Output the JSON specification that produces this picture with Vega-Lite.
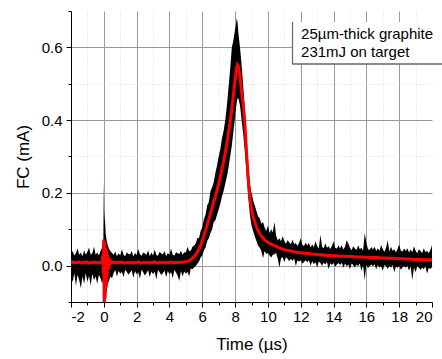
{
  "$schema": "https://vega.github.io/schema/vega-lite/v6.json",
  "width": 361,
  "height": 291,
  "autosize": "none",
  "padding": {"left": 71, "top": 11, "right": 10, "bottom": 57},
  "config": {
    "view": {"stroke": null},
    "font": "Liberation Sans",
    "axis": {
      "domainColor": "#000",
      "domainWidth": 1,
      "tickColor": "#000",
      "labelColor": "#000",
      "titleColor": "#000",
      "labelFont": "Liberation Sans",
      "titleFont": "Liberation Sans",
      "labelFontSize": 15,
      "titleFontSize": 17,
      "titleFontWeight": "normal"
    }
  },
  "data": {
    "values": [
      {"t":-2,"r":0.008,"lo":-0.03,"hi":0.03},
      {"t":-1.9,"r":0.01,"lo":-0.045,"hi":0.04},
      {"t":-1.8,"r":0.007,"lo":-0.02,"hi":0.028},
      {"t":-1.7,"r":0.009,"lo":-0.055,"hi":0.035},
      {"t":-1.6,"r":0.008,"lo":-0.025,"hi":0.048},
      {"t":-1.5,"r":0.01,"lo":-0.04,"hi":0.03},
      {"t":-1.4,"r":0.007,"lo":-0.062,"hi":0.036},
      {"t":-1.3,"r":0.009,"lo":-0.03,"hi":0.026},
      {"t":-1.2,"r":0.008,"lo":-0.05,"hi":0.042},
      {"t":-1.1,"r":0.01,"lo":-0.02,"hi":0.03},
      {"t":-1,"r":0.008,"lo":-0.045,"hi":0.038},
      {"t":-0.9,"r":0.007,"lo":-0.028,"hi":0.05},
      {"t":-0.8,"r":0.009,"lo":-0.055,"hi":0.03},
      {"t":-0.7,"r":0.008,"lo":-0.022,"hi":0.034},
      {"t":-0.6,"r":0.01,"lo":-0.04,"hi":0.052},
      {"t":-0.5,"r":0.008,"lo":-0.03,"hi":0.03},
      {"t":-0.4,"r":0.009,"lo":-0.05,"hi":0.036},
      {"t":-0.3,"r":0.007,"lo":-0.025,"hi":0.028},
      {"t":-0.2,"r":0.009,"lo":-0.035,"hi":0.04},
      {"t":-0.1,"r":0.01,"lo":-0.05,"hi":0.05},
      {"t":-0.06,"r":0.03,"lo":-0.04,"hi":0.07},
      {"t":-0.03,"r":-0.02,"lo":-0.07,"hi":0.06},
      {"t":0,"r":0.072,"lo":-0.11,"hi":0.234},
      {"t":0.02,"r":-0.1,"lo":-0.12,"hi":0.15},
      {"t":0.05,"r":0.065,"lo":-0.12,"hi":0.13},
      {"t":0.08,"r":-0.09,"lo":-0.11,"hi":0.12},
      {"t":0.11,"r":0.05,"lo":-0.09,"hi":0.09},
      {"t":0.14,"r":-0.06,"lo":-0.08,"hi":0.08},
      {"t":0.17,"r":0.04,"lo":-0.07,"hi":0.07},
      {"t":0.2,"r":-0.03,"lo":-0.06,"hi":0.065},
      {"t":0.24,"r":0.03,"lo":-0.05,"hi":0.055},
      {"t":0.28,"r":-0.01,"lo":-0.045,"hi":0.05},
      {"t":0.33,"r":0.02,"lo":-0.04,"hi":0.045},
      {"t":0.4,"r":0.005,"lo":-0.03,"hi":0.04},
      {"t":0.5,"r":0.011,"lo":-0.035,"hi":0.035},
      {"t":0.6,"r":0.008,"lo":-0.02,"hi":0.03},
      {"t":0.7,"r":0.009,"lo":-0.012,"hi":0.039},
      {"t":0.8,"r":0.007,"lo":-0.03,"hi":0.026},
      {"t":0.9,"r":0.009,"lo":-0.014,"hi":0.034},
      {"t":1,"r":0.008,"lo":-0.022,"hi":0.028},
      {"t":1.1,"r":0.01,"lo":-0.017,"hi":0.045},
      {"t":1.2,"r":0.008,"lo":-0.032,"hi":0.03},
      {"t":1.3,"r":0.007,"lo":-0.012,"hi":0.026},
      {"t":1.4,"r":0.009,"lo":-0.017,"hi":0.037},
      {"t":1.5,"r":0.008,"lo":-0.025,"hi":0.032},
      {"t":1.6,"r":0.009,"lo":-0.019,"hi":0.031},
      {"t":1.7,"r":0.008,"lo":-0.013,"hi":0.04},
      {"t":1.8,"r":0.007,"lo":-0.034,"hi":0.025},
      {"t":1.9,"r":0.009,"lo":-0.015,"hi":0.035},
      {"t":2,"r":0.008,"lo":-0.024,"hi":0.029},
      {"t":2.1,"r":0.01,"lo":-0.018,"hi":0.046},
      {"t":2.2,"r":0.008,"lo":-0.036,"hi":0.031},
      {"t":2.3,"r":0.007,"lo":-0.011,"hi":0.027},
      {"t":2.4,"r":0.009,"lo":-0.018,"hi":0.036},
      {"t":2.5,"r":0.008,"lo":-0.027,"hi":0.033},
      {"t":2.6,"r":0.009,"lo":-0.02,"hi":0.03},
      {"t":2.7,"r":0.008,"lo":-0.013,"hi":0.042},
      {"t":2.8,"r":0.007,"lo":-0.031,"hi":0.026},
      {"t":2.9,"r":0.009,"lo":-0.016,"hi":0.036},
      {"t":3,"r":0.008,"lo":-0.023,"hi":0.028},
      {"t":3.1,"r":0.01,"lo":-0.017,"hi":0.044},
      {"t":3.2,"r":0.008,"lo":-0.038,"hi":0.029},
      {"t":3.3,"r":0.007,"lo":-0.012,"hi":0.027},
      {"t":3.4,"r":0.009,"lo":-0.018,"hi":0.038},
      {"t":3.5,"r":0.008,"lo":-0.026,"hi":0.033},
      {"t":3.6,"r":0.009,"lo":-0.02,"hi":0.031},
      {"t":3.7,"r":0.008,"lo":-0.014,"hi":0.04},
      {"t":3.8,"r":0.007,"lo":-0.032,"hi":0.026},
      {"t":3.9,"r":0.009,"lo":-0.015,"hi":0.035},
      {"t":4,"r":0.008,"lo":-0.024,"hi":0.029},
      {"t":4.1,"r":0.01,"lo":-0.018,"hi":0.047},
      {"t":4.2,"r":0.008,"lo":-0.035,"hi":0.03},
      {"t":4.3,"r":0.008,"lo":-0.012,"hi":0.028},
      {"t":4.4,"r":0.009,"lo":-0.019,"hi":0.037},
      {"t":4.5,"r":0.008,"lo":-0.028,"hi":0.034},
      {"t":4.6,"r":0.009,"lo":-0.042,"hi":0.032},
      {"t":4.7,"r":0.009,"lo":-0.015,"hi":0.041},
      {"t":4.8,"r":0.009,"lo":-0.03,"hi":0.03},
      {"t":4.9,"r":0.01,"lo":-0.016,"hi":0.037},
      {"t":5,"r":0.011,"lo":-0.022,"hi":0.036},
      {"t":5.1,"r":0.012,"lo":-0.017,"hi":0.052},
      {"t":5.2,"r":0.014,"lo":-0.03,"hi":0.04},
      {"t":5.3,"r":0.017,"lo":-0.008,"hi":0.041},
      {"t":5.4,"r":0.02,"lo":-0.01,"hi":0.052},
      {"t":5.5,"r":0.025,"lo":-0.005,"hi":0.055},
      {"t":5.6,"r":0.03,"lo":-0.001,"hi":0.061},
      {"t":5.7,"r":0.037,"lo":0.005,"hi":0.075},
      {"t":5.8,"r":0.045,"lo":0.011,"hi":0.076},
      {"t":5.9,"r":0.056,"lo":0.022,"hi":0.095},
      {"t":6,"r":0.068,"lo":0.028,"hi":0.105},
      {"t":6.1,"r":0.082,"lo":0.042,"hi":0.128},
      {"t":6.2,"r":0.097,"lo":0.05,"hi":0.14},
      {"t":6.3,"r":0.112,"lo":0.068,"hi":0.165},
      {"t":6.4,"r":0.128,"lo":0.075,"hi":0.175},
      {"t":6.5,"r":0.144,"lo":0.09,"hi":0.205},
      {"t":6.6,"r":0.16,"lo":0.1,"hi":0.215},
      {"t":6.7,"r":0.175,"lo":0.12,"hi":0.23},
      {"t":6.8,"r":0.19,"lo":0.125,"hi":0.255},
      {"t":6.9,"r":0.207,"lo":0.14,"hi":0.275},
      {"t":7,"r":0.225,"lo":0.155,"hi":0.3},
      {"t":7.1,"r":0.245,"lo":0.17,"hi":0.32},
      {"t":7.2,"r":0.265,"lo":0.19,"hi":0.35},
      {"t":7.3,"r":0.287,"lo":0.205,"hi":0.37},
      {"t":7.4,"r":0.31,"lo":0.225,"hi":0.4},
      {"t":7.5,"r":0.336,"lo":0.245,"hi":0.44},
      {"t":7.6,"r":0.365,"lo":0.27,"hi":0.49},
      {"t":7.7,"r":0.396,"lo":0.3,"hi":0.54},
      {"t":7.8,"r":0.43,"lo":0.33,"hi":0.6},
      {"t":7.9,"r":0.47,"lo":0.37,"hi":0.62},
      {"t":8,"r":0.51,"lo":0.41,"hi":0.65},
      {"t":8.05,"r":0.53,"lo":0.43,"hi":0.66},
      {"t":8.1,"r":0.545,"lo":0.45,"hi":0.68},
      {"t":8.15,"r":0.552,"lo":0.46,"hi":0.67},
      {"t":8.2,"r":0.548,"lo":0.46,"hi":0.64},
      {"t":8.3,"r":0.52,"lo":0.44,"hi":0.6},
      {"t":8.4,"r":0.475,"lo":0.4,"hi":0.55},
      {"t":8.5,"r":0.44,"lo":0.36,"hi":0.49},
      {"t":8.6,"r":0.39,"lo":0.31,"hi":0.43},
      {"t":8.7,"r":0.31,"lo":0.25,"hi":0.35},
      {"t":8.8,"r":0.24,"lo":0.19,"hi":0.28},
      {"t":8.9,"r":0.185,"lo":0.14,"hi":0.225},
      {"t":9,"r":0.155,"lo":0.11,"hi":0.2},
      {"t":9.1,"r":0.135,"lo":0.095,"hi":0.18},
      {"t":9.2,"r":0.12,"lo":0.08,"hi":0.165},
      {"t":9.3,"r":0.107,"lo":0.068,"hi":0.15},
      {"t":9.4,"r":0.097,"lo":0.055,"hi":0.135},
      {"t":9.5,"r":0.088,"lo":0.05,"hi":0.13},
      {"t":9.6,"r":0.081,"lo":0.04,"hi":0.115},
      {"t":9.7,"r":0.076,"lo":0.02,"hi":0.12},
      {"t":9.8,"r":0.071,"lo":0.04,"hi":0.105},
      {"t":9.9,"r":0.067,"lo":0.032,"hi":0.095},
      {"t":10,"r":0.064,"lo":0.035,"hi":0.11},
      {"t":10.1,"r":0.061,"lo":0.028,"hi":0.09},
      {"t":10.2,"r":0.059,"lo":0.022,"hi":0.1},
      {"t":10.3,"r":0.057,"lo":0.03,"hi":0.092},
      {"t":10.4,"r":0.055,"lo":0.031,"hi":0.12},
      {"t":10.5,"r":0.053,"lo":0.035,"hi":0.083},
      {"t":10.6,"r":0.051,"lo":0.019,"hi":0.069},
      {"t":10.7,"r":0.049,"lo":-0.005,"hi":0.075},
      {"t":10.8,"r":0.047,"lo":0.02,"hi":0.067},
      {"t":10.9,"r":0.045,"lo":0.023,"hi":0.081},
      {"t":11,"r":0.044,"lo":0.009,"hi":0.068},
      {"t":11.1,"r":0.043,"lo":0.024,"hi":0.06},
      {"t":11.2,"r":0.042,"lo":0.019,"hi":0.07},
      {"t":11.3,"r":0.041,"lo":0.012,"hi":0.064},
      {"t":11.4,"r":0.04,"lo":0.019,"hi":0.059},
      {"t":11.5,"r":0.039,"lo":0.013,"hi":0.071},
      {"t":11.6,"r":0.038,"lo":0.02,"hi":0.059},
      {"t":11.7,"r":0.037,"lo":-0.001,"hi":0.062},
      {"t":11.8,"r":0.036,"lo":0.014,"hi":0.054},
      {"t":11.9,"r":0.036,"lo":0.011,"hi":0.063},
      {"t":12,"r":0.035,"lo":0.015,"hi":0.075},
      {"t":12.1,"r":0.035,"lo":0.005,"hi":0.057},
      {"t":12.2,"r":0.034,"lo":0.01,"hi":0.054},
      {"t":12.3,"r":0.034,"lo":0.015,"hi":0.063},
      {"t":12.4,"r":0.033,"lo":0.009,"hi":0.055},
      {"t":12.5,"r":0.033,"lo":0.015,"hi":0.063},
      {"t":12.6,"r":0.032,"lo":0,"hi":0.05},
      {"t":12.7,"r":0.032,"lo":0.012,"hi":0.058},
      {"t":12.8,"r":0.031,"lo":0.004,"hi":0.051},
      {"t":12.9,"r":0.031,"lo":0.009,"hi":0.067},
      {"t":13,"r":0.03,"lo":-0.005,"hi":0.054},
      {"t":13.1,"r":0.03,"lo":0.011,"hi":0.047},
      {"t":13.2,"r":0.03,"lo":0.007,"hi":0.085},
      {"t":13.3,"r":0.029,"lo":0,"hi":0.052},
      {"t":13.4,"r":0.029,"lo":0.008,"hi":0.048},
      {"t":13.5,"r":0.029,"lo":0.003,"hi":0.061},
      {"t":13.6,"r":0.028,"lo":0.01,"hi":0.049},
      {"t":13.7,"r":0.028,"lo":-0.01,"hi":0.053},
      {"t":13.8,"r":0.028,"lo":0.006,"hi":0.046},
      {"t":13.9,"r":0.027,"lo":0.002,"hi":0.054},
      {"t":14,"r":0.027,"lo":0.007,"hi":0.067},
      {"t":14.1,"r":0.027,"lo":-0.003,"hi":0.049},
      {"t":14.2,"r":0.027,"lo":0.003,"hi":0.047},
      {"t":14.3,"r":0.026,"lo":0.007,"hi":0.055},
      {"t":14.4,"r":0.026,"lo":0.002,"hi":0.048},
      {"t":14.5,"r":0.026,"lo":0.008,"hi":0.056},
      {"t":14.6,"r":0.026,"lo":-0.006,"hi":0.044},
      {"t":14.7,"r":0.026,"lo":0.006,"hi":0.052},
      {"t":14.8,"r":0.025,"lo":-0.002,"hi":0.07},
      {"t":14.9,"r":0.025,"lo":0.003,"hi":0.061},
      {"t":15,"r":0.025,"lo":-0.01,"hi":0.049},
      {"t":15.1,"r":0.025,"lo":0.006,"hi":0.042},
      {"t":15.2,"r":0.025,"lo":0.002,"hi":0.053},
      {"t":15.3,"r":0.024,"lo":-0.005,"hi":0.047},
      {"t":15.4,"r":0.024,"lo":0.003,"hi":0.043},
      {"t":15.5,"r":0.024,"lo":-0.002,"hi":0.056},
      {"t":15.6,"r":0.024,"lo":0.006,"hi":0.045},
      {"t":15.7,"r":0.024,"lo":-0.014,"hi":0.049},
      {"t":15.8,"r":0.023,"lo":0.001,"hi":0.041},
      {"t":15.9,"r":0.023,"lo":-0.04,"hi":0.09},
      {"t":16,"r":0.023,"lo":0.003,"hi":0.063},
      {"t":16.1,"r":0.023,"lo":-0.007,"hi":0.045},
      {"t":16.2,"r":0.023,"lo":-0.001,"hi":0.043},
      {"t":16.3,"r":0.022,"lo":0.003,"hi":0.051},
      {"t":16.4,"r":0.022,"lo":-0.002,"hi":0.044},
      {"t":16.5,"r":0.022,"lo":0.004,"hi":0.052},
      {"t":16.6,"r":0.022,"lo":-0.01,"hi":0.04},
      {"t":16.7,"r":0.022,"lo":0.002,"hi":0.048},
      {"t":16.8,"r":0.021,"lo":-0.006,"hi":0.041},
      {"t":16.9,"r":0.021,"lo":-0.001,"hi":0.057},
      {"t":17,"r":0.021,"lo":-0.014,"hi":0.045},
      {"t":17.1,"r":0.021,"lo":0.002,"hi":0.038},
      {"t":17.2,"r":0.021,"lo":-0.002,"hi":0.049},
      {"t":17.3,"r":0.02,"lo":-0.009,"hi":0.07},
      {"t":17.4,"r":0.02,"lo":-0.001,"hi":0.039},
      {"t":17.5,"r":0.02,"lo":-0.006,"hi":0.052},
      {"t":17.6,"r":0.02,"lo":0.002,"hi":0.041},
      {"t":17.7,"r":0.02,"lo":-0.018,"hi":0.045},
      {"t":17.8,"r":0.019,"lo":-0.003,"hi":0.037},
      {"t":17.9,"r":0.019,"lo":-0.006,"hi":0.046},
      {"t":18,"r":0.019,"lo":-0.001,"hi":0.059},
      {"t":18.1,"r":0.019,"lo":-0.011,"hi":0.041},
      {"t":18.2,"r":0.019,"lo":-0.005,"hi":0.039},
      {"t":18.3,"r":0.018,"lo":-0.001,"hi":0.047},
      {"t":18.4,"r":0.018,"lo":-0.006,"hi":0.04},
      {"t":18.5,"r":0.018,"lo":0,"hi":0.048},
      {"t":18.6,"r":0.018,"lo":-0.014,"hi":0.036},
      {"t":18.7,"r":0.018,"lo":-0.002,"hi":0.044},
      {"t":18.8,"r":0.017,"lo":-0.04,"hi":0.037},
      {"t":18.9,"r":0.017,"lo":-0.005,"hi":0.053},
      {"t":19,"r":0.017,"lo":-0.018,"hi":0.041},
      {"t":19.1,"r":0.017,"lo":-0.002,"hi":0.034},
      {"t":19.2,"r":0.017,"lo":-0.006,"hi":0.045},
      {"t":19.3,"r":0.017,"lo":-0.012,"hi":0.04},
      {"t":19.4,"r":0.016,"lo":-0.005,"hi":0.035},
      {"t":19.5,"r":0.016,"lo":-0.01,"hi":0.048},
      {"t":19.6,"r":0.016,"lo":-0.002,"hi":0.037},
      {"t":19.7,"r":0.016,"lo":-0.022,"hi":0.041},
      {"t":19.8,"r":0.016,"lo":-0.006,"hi":0.034},
      {"t":19.9,"r":0.016,"lo":-0.009,"hi":0.043},
      {"t":20,"r":0.016,"lo":-0.004,"hi":0.056}
    ]
  },
  "layer": [
    {
      "mark": {"type": "area", "color": "#000000", "clip": true},
      "encoding": {
        "x": {"field": "t", "type": "quantitative", "scale": {"domain": [-2, 20], "nice": false, "zero": false},
          "axis": {"title": "Time (µs)", "values": [-2,-1,0,1,2,3,4,5,6,7,8,9,10,11,12,13,14,15,16,17,18,19,20], "labelExpr": "datum.value % 2 == 0 ? toString(datum.value) : ''", "labelPadding": 2, "titlePadding": 12, "tickSize": {"condition": {"test": "datum.value % 2 != 0", "value": 3}, "value": 5}, "grid": true, "gridDash": {"condition": {"test": "datum.value % 2 != 0", "value": [1, 2]}, "value": []}, "gridColor": {"condition": {"test": "datum.value % 2 != 0", "value": "#dadada"}, "value": "#9a9a9a"}, "gridOpacity": {"condition": {"test": "datum.value == 20 || datum.value == -2", "value": 0}, "value": 1}}},
        "y": {"field": "lo", "type": "quantitative", "scale": {"domain": [-0.1, 0.7], "nice": false, "zero": false},
          "axis": {"title": "FC (mA)", "values": [-0.1, 0, 0.1, 0.2, 0.3, 0.4, 0.5, 0.6, 0.7], "labelExpr": "round(datum.value*10) % 2 == 0 && datum.value >= 0 ? format(datum.value, '.1f') : ''", "labelPadding": 4, "titlePadding": 9, "tickSize": {"condition": {"test": "round(datum.value*10) % 2 != 0", "value": 3}, "value": 5}, "grid": true, "gridDash": {"condition": {"test": "round(datum.value*10) % 2 != 0", "value": [1, 2]}, "value": []}, "gridColor": {"condition": {"test": "round(datum.value*10) % 2 != 0", "value": "#dadada"}, "value": "#9a9a9a"}, "gridOpacity": {"condition": {"test": "datum.value < -0.05 || datum.value > 0.65", "value": 0}, "value": 1}}},
        "y2": {"field": "hi"}
      }
    },
    {
      "mark": {"type": "line", "color": "#ff0000", "strokeWidth": 3, "clip": true},
      "encoding": {
        "x": {"field": "t", "type": "quantitative", "scale": {"domain": [-2, 20], "nice": false, "zero": false},
          "axis": {"title": "Time (µs)", "values": [-2,-1,0,1,2,3,4,5,6,7,8,9,10,11,12,13,14,15,16,17,18,19,20], "labelExpr": "datum.value % 2 == 0 ? toString(datum.value) : ''", "labelPadding": 2, "titlePadding": 12, "tickSize": {"condition": {"test": "datum.value % 2 != 0", "value": 3}, "value": 5}, "grid": true, "gridDash": {"condition": {"test": "datum.value % 2 != 0", "value": [1, 2]}, "value": []}, "gridColor": {"condition": {"test": "datum.value % 2 != 0", "value": "#dadada"}, "value": "#9a9a9a"}, "gridOpacity": {"condition": {"test": "datum.value == 20 || datum.value == -2", "value": 0}, "value": 1}}},
        "y": {"field": "r", "type": "quantitative", "scale": {"domain": [-0.1, 0.7], "nice": false, "zero": false},
          "axis": {"title": "FC (mA)", "values": [-0.1, 0, 0.1, 0.2, 0.3, 0.4, 0.5, 0.6, 0.7], "labelExpr": "round(datum.value*10) % 2 == 0 && datum.value >= 0 ? format(datum.value, '.1f') : ''", "labelPadding": 4, "titlePadding": 9, "tickSize": {"condition": {"test": "round(datum.value*10) % 2 != 0", "value": 3}, "value": 5}, "grid": true, "gridDash": {"condition": {"test": "round(datum.value*10) % 2 != 0", "value": [1, 2]}, "value": []}, "gridColor": {"condition": {"test": "round(datum.value*10) % 2 != 0", "value": "#dadada"}, "value": "#9a9a9a"}, "gridOpacity": {"condition": {"test": "datum.value < -0.05 || datum.value > 0.65", "value": 0}, "value": 1}}}
      }
    },
    {
      "data": {"values": [{}]},
      "mark": {"type": "rect", "fill": "#ffffff", "strokeWidth": 0},
      "encoding": {
        "x": {"datum": 11.5, "type": "quantitative", "scale": {"domain": [-2, 20], "nice": false, "zero": false},
          "axis": {"title": "Time (µs)", "values": [-2,-1,0,1,2,3,4,5,6,7,8,9,10,11,12,13,14,15,16,17,18,19,20], "labelExpr": "datum.value % 2 == 0 ? toString(datum.value) : ''", "labelPadding": 2, "titlePadding": 12, "tickSize": {"condition": {"test": "datum.value % 2 != 0", "value": 3}, "value": 5}, "grid": true, "gridDash": {"condition": {"test": "datum.value % 2 != 0", "value": [1, 2]}, "value": []}, "gridColor": {"condition": {"test": "datum.value % 2 != 0", "value": "#dadada"}, "value": "#9a9a9a"}, "gridOpacity": {"condition": {"test": "datum.value == 20 || datum.value == -2", "value": 0}, "value": 1}}},
        "x2": {"datum": 21},
        "y": {"datum": 0.554, "type": "quantitative", "scale": {"domain": [-0.1, 0.7], "nice": false, "zero": false},
          "axis": {"title": "FC (mA)", "values": [-0.1, 0, 0.1, 0.2, 0.3, 0.4, 0.5, 0.6, 0.7], "labelExpr": "round(datum.value*10) % 2 == 0 && datum.value >= 0 ? format(datum.value, '.1f') : ''", "labelPadding": 4, "titlePadding": 9, "tickSize": {"condition": {"test": "round(datum.value*10) % 2 != 0", "value": 3}, "value": 5}, "grid": true, "gridDash": {"condition": {"test": "round(datum.value*10) % 2 != 0", "value": [1, 2]}, "value": []}, "gridColor": {"condition": {"test": "round(datum.value*10) % 2 != 0", "value": "#dadada"}, "value": "#9a9a9a"}, "gridOpacity": {"condition": {"test": "datum.value < -0.05 || datum.value > 0.65", "value": 0}, "value": 1}}},
        "y2": {"datum": 0.67}
      }
    },
    {
      "data": {"values": [{}]},
      "mark": {"type": "rule", "color": "#666666", "strokeWidth": 1.2},
      "encoding": {
        "x": {"datum": 11.5, "type": "quantitative", "scale": {"domain": [-2, 20], "nice": false, "zero": false},
          "axis": {"title": "Time (µs)", "values": [-2,-1,0,1,2,3,4,5,6,7,8,9,10,11,12,13,14,15,16,17,18,19,20], "labelExpr": "datum.value % 2 == 0 ? toString(datum.value) : ''", "labelPadding": 2, "titlePadding": 12, "tickSize": {"condition": {"test": "datum.value % 2 != 0", "value": 3}, "value": 5}, "grid": true, "gridDash": {"condition": {"test": "datum.value % 2 != 0", "value": [1, 2]}, "value": []}, "gridColor": {"condition": {"test": "datum.value % 2 != 0", "value": "#dadada"}, "value": "#9a9a9a"}, "gridOpacity": {"condition": {"test": "datum.value == 20 || datum.value == -2", "value": 0}, "value": 1}}},
        "y": {"datum": 0.554, "type": "quantitative", "scale": {"domain": [-0.1, 0.7], "nice": false, "zero": false},
          "axis": {"title": "FC (mA)", "values": [-0.1, 0, 0.1, 0.2, 0.3, 0.4, 0.5, 0.6, 0.7], "labelExpr": "round(datum.value*10) % 2 == 0 && datum.value >= 0 ? format(datum.value, '.1f') : ''", "labelPadding": 4, "titlePadding": 9, "tickSize": {"condition": {"test": "round(datum.value*10) % 2 != 0", "value": 3}, "value": 5}, "grid": true, "gridDash": {"condition": {"test": "round(datum.value*10) % 2 != 0", "value": [1, 2]}, "value": []}, "gridColor": {"condition": {"test": "round(datum.value*10) % 2 != 0", "value": "#dadada"}, "value": "#9a9a9a"}, "gridOpacity": {"condition": {"test": "datum.value < -0.05 || datum.value > 0.65", "value": 0}, "value": 1}}},
        "y2": {"datum": 0.67}
      }
    },
    {
      "data": {"values": [{}]},
      "mark": {"type": "rule", "color": "#666666", "strokeWidth": 1.5},
      "encoding": {
        "x": {"datum": 11.5, "type": "quantitative", "scale": {"domain": [-2, 20], "nice": false, "zero": false},
          "axis": {"title": "Time (µs)", "values": [-2,-1,0,1,2,3,4,5,6,7,8,9,10,11,12,13,14,15,16,17,18,19,20], "labelExpr": "datum.value % 2 == 0 ? toString(datum.value) : ''", "labelPadding": 2, "titlePadding": 12, "tickSize": {"condition": {"test": "datum.value % 2 != 0", "value": 3}, "value": 5}, "grid": true, "gridDash": {"condition": {"test": "datum.value % 2 != 0", "value": [1, 2]}, "value": []}, "gridColor": {"condition": {"test": "datum.value % 2 != 0", "value": "#dadada"}, "value": "#9a9a9a"}, "gridOpacity": {"condition": {"test": "datum.value == 20 || datum.value == -2", "value": 0}, "value": 1}}},
        "x2": {"datum": 21},
        "y": {"datum": 0.554, "type": "quantitative", "scale": {"domain": [-0.1, 0.7], "nice": false, "zero": false},
          "axis": {"title": "FC (mA)", "values": [-0.1, 0, 0.1, 0.2, 0.3, 0.4, 0.5, 0.6, 0.7], "labelExpr": "round(datum.value*10) % 2 == 0 && datum.value >= 0 ? format(datum.value, '.1f') : ''", "labelPadding": 4, "titlePadding": 9, "tickSize": {"condition": {"test": "round(datum.value*10) % 2 != 0", "value": 3}, "value": 5}, "grid": true, "gridDash": {"condition": {"test": "round(datum.value*10) % 2 != 0", "value": [1, 2]}, "value": []}, "gridColor": {"condition": {"test": "round(datum.value*10) % 2 != 0", "value": "#dadada"}, "value": "#9a9a9a"}, "gridOpacity": {"condition": {"test": "datum.value < -0.05 || datum.value > 0.65", "value": 0}, "value": 1}}}
      }
    },
    {
      "data": {"values": [{}]},
      "mark": {"type": "text", "align": "left", "baseline": "alphabetic", "font": "Liberation Sans", "fontSize": 15, "lineHeight": 18, "color": "#000000"},
      "encoding": {
        "x": {"datum": 12.02, "type": "quantitative", "scale": {"domain": [-2, 20], "nice": false, "zero": false},
          "axis": {"title": "Time (µs)", "values": [-2,-1,0,1,2,3,4,5,6,7,8,9,10,11,12,13,14,15,16,17,18,19,20], "labelExpr": "datum.value % 2 == 0 ? toString(datum.value) : ''", "labelPadding": 2, "titlePadding": 12, "tickSize": {"condition": {"test": "datum.value % 2 != 0", "value": 3}, "value": 5}, "grid": true, "gridDash": {"condition": {"test": "datum.value % 2 != 0", "value": [1, 2]}, "value": []}, "gridColor": {"condition": {"test": "datum.value % 2 != 0", "value": "#dadada"}, "value": "#9a9a9a"}, "gridOpacity": {"condition": {"test": "datum.value == 20 || datum.value == -2", "value": 0}, "value": 1}}},
        "y": {"datum": 0.622, "type": "quantitative", "scale": {"domain": [-0.1, 0.7], "nice": false, "zero": false},
          "axis": {"title": "FC (mA)", "values": [-0.1, 0, 0.1, 0.2, 0.3, 0.4, 0.5, 0.6, 0.7], "labelExpr": "round(datum.value*10) % 2 == 0 && datum.value >= 0 ? format(datum.value, '.1f') : ''", "labelPadding": 4, "titlePadding": 9, "tickSize": {"condition": {"test": "round(datum.value*10) % 2 != 0", "value": 3}, "value": 5}, "grid": true, "gridDash": {"condition": {"test": "round(datum.value*10) % 2 != 0", "value": [1, 2]}, "value": []}, "gridColor": {"condition": {"test": "round(datum.value*10) % 2 != 0", "value": "#dadada"}, "value": "#9a9a9a"}, "gridOpacity": {"condition": {"test": "datum.value < -0.05 || datum.value > 0.65", "value": 0}, "value": 1}}},
        "text": {"value": ["25µm-thick graphite", "231mJ on target"]}
      }
    }
  ]
}
